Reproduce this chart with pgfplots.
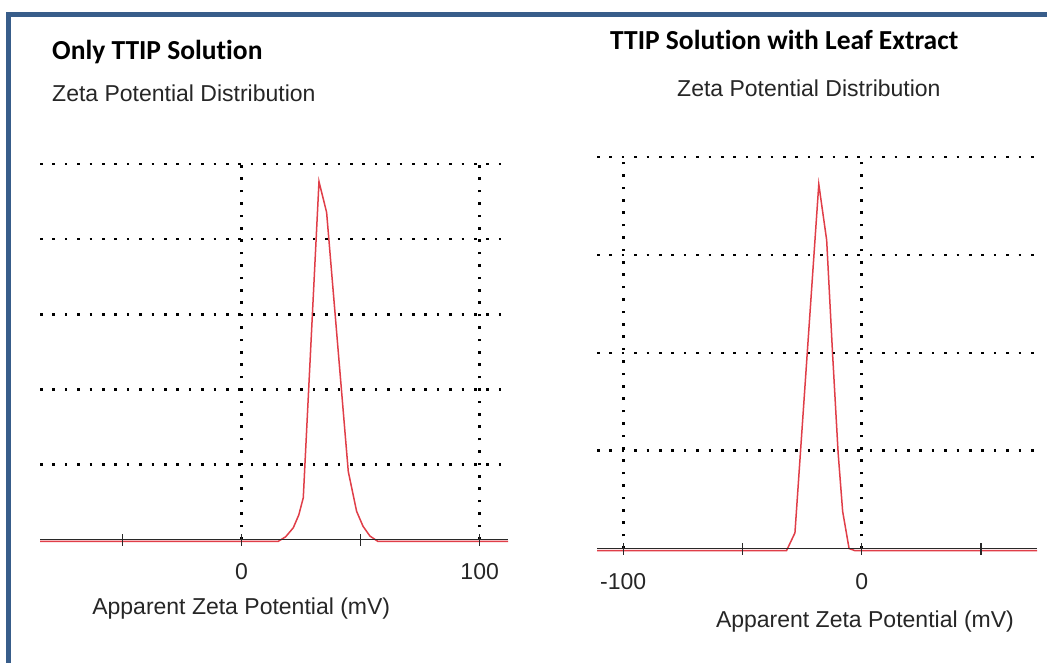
\documentclass[border=0pt]{standalone}
\usepackage{fontspec}
\setmainfont{Liberation Sans}
\newfontfamily\titlefont[Ligatures={NoCommon,NoContextual}]{Carlito}
\usepackage{pgfplots}
\pgfplotsset{compat=1.18}

\definecolor{framecol}{RGB}{56,93,138}
\definecolor{zetared}{RGB}{224,62,72}
\definecolor{axisgray}{RGB}{40,40,40}

% Zeta potential distribution curves (apparent zeta potential in mV, relative counts)
\pgfplotstableread{
x      y
-84.7  0
15.4   0
18.5   0.06
21.7   0.18
24.0   0.35
25.9   0.58
32.5   4.79
35.7   4.38
44.8   0.93
48.3   0.40
51.0   0.20
53.9   0.07
57.2   0
111.9  0
}\ttipdata

\pgfplotstableread{
x      y
-111   0
-31.5  0
-28.0  0.18
-18.0  3.74
-14.7  3.17
-12.2  2.00
-9.9   1.00
-8.0   0.40
-5.3   0.02
-3.0   0
73.5   0
}\leafdata

\pgfplotsset{
  zeta/.style={
    scale only axis,
    enlargelimits=false,
    clip=false,
    axis on top,
    axis x line*=bottom,
    axis y line*=left,
    y axis line style={draw=none},
    x axis line style={axisgray, line width=1pt},
    ymin=0,
    ytick style={draw=none},
    yticklabels={},
    xtick style={axisgray, line width=1.1pt},
    major tick length=12pt,
    minor tick length=12pt,
    tick align=center,
    ymajorgrids,
    xmajorgrids,
    grid style={black, line width=2.6pt, dash pattern=on 2.6pt off 9.8pt},
    xticklabel style={anchor=base, font=\fontsize{23}{27}\selectfont, text=black!85},
  },
  zetacurve/.style={zetared, line width=1.5pt, no markers, yshift=-1.8pt},
}

\begin{document}
\begin{tikzpicture}[x=1pt, y=1pt]
  \useasboundingbox (0,0) rectangle (1047,-663);
  \fill[white] (0,0) rectangle (1047,-663);
  % frame
  \draw[framecol, line width=4.4pt] (8.3,-670) -- (8.3,-14.7) -- (1055,-14.7);

  % panel titles
  \node[anchor=base west, inner sep=0, font=\titlefont\bfseries\fontsize{27.5}{30}\selectfont] at (52,-59.5) {Only TTIP Solution};
  \node[anchor=base west, inner sep=0, font=\fontsize{23}{27}\selectfont, text=black!85] at (52,-101.7) {Zeta Potential Distribution};
  \node[anchor=base west, inner sep=0, font=\titlefont\bfseries\fontsize{27.5}{30}\selectfont] at (610,-50) {TTIP Solution with Leaf Extract};
  \node[anchor=base west, inner sep=0, font=\fontsize{23}{27}\selectfont, text=black!85] at (677,-96.7) {Zeta Potential Distribution};

  % left: only TTIP solution
  \begin{axis}[zeta,
    at={(40pt,-539.5pt)}, anchor=south west,
    width=468pt, height=375.5pt,
    xmin=-84.7, xmax=111.9, ymax=5,
    ytick={1,2,3,4,5},
    xtick={0,100}, xticklabels={0,100},
    minor xtick={-50,50},
    xticklabel style={yshift=-34pt},
    xlabel={Apparent Zeta Potential (mV)},
    xlabel style={at={(axis description cs:0.430,0)}, anchor=base, yshift=-74.5pt,
      font=\fontsize{23}{27}\selectfont, text=black!85},
  ]
    \addplot[zetacurve] table[x=x, y=y] {\ttipdata};
  \end{axis}

  % right: TTIP solution with leaf extract
  \begin{axis}[zeta,
    at={(597pt,-548.7pt)}, anchor=south west,
    width=440pt, height=391.7pt,
    xmin=-111, xmax=73.5, ymax=4,
    ytick={1,2,3,4},
    xtick={-100,0}, xticklabels={-100,0},
    minor xtick={-50,50},
    xticklabel style={yshift=-34.6pt},
    xlabel={Apparent Zeta Potential (mV)},
    xlabel style={at={(axis description cs:0.609,0)}, anchor=base, yshift=-78.3pt,
      font=\fontsize{23}{27}\selectfont, text=black!85},
  ]
    \addplot[zetacurve] table[x=x, y=y] {\leafdata};
  \end{axis}
\end{tikzpicture}
\end{document}
